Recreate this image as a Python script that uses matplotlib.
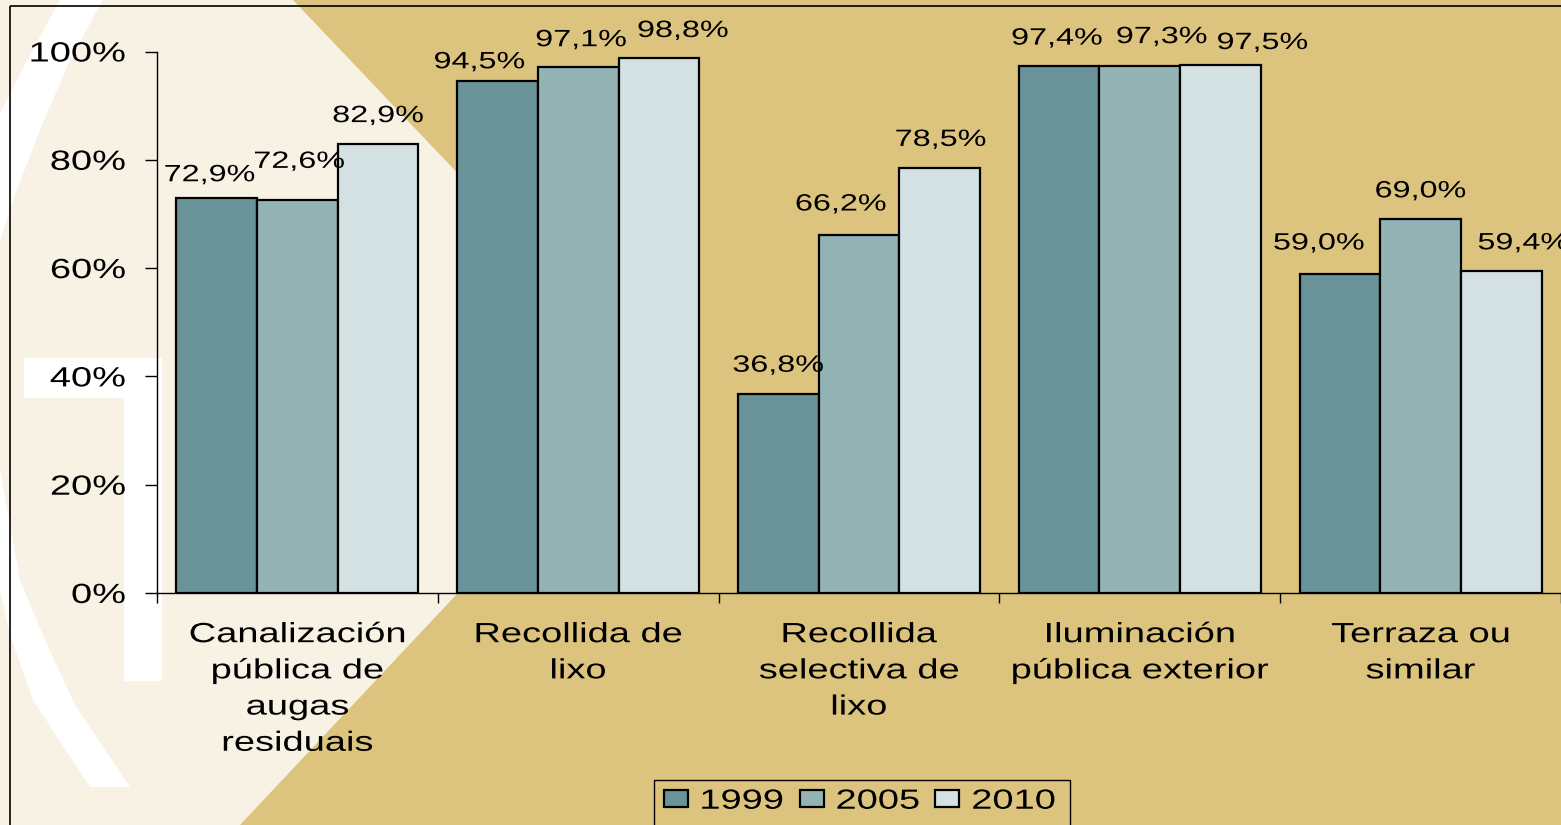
import numpy as np
import matplotlib
matplotlib.use("Agg")
from matplotlib import pyplot as plt
from matplotlib.patches import Polygon, Rectangle
from matplotlib.patheffects import AbstractPathEffect
from matplotlib.transforms import Affine2D

plt.rcParams["font.family"] = ["Liberation Sans", "DejaVu Sans"]

categories = ["Canalización\npública de\naugas\nresiduais", "Recollida de\nlixo",
              "Recollida\nselectiva de\nlixo", "Iluminación\npública exterior",
              "Terraza ou\nsimilar"]
years = ["1999", "2005", "2010"]
v1999 = [72.9, 94.5, 36.8, 97.4, 59.0]
v2005 = [72.6, 97.1, 66.2, 97.3, 69.0]
v2010 = [82.9, 98.8, 78.5, 97.5, 59.4]
y_ticks = [0, 20, 40, 60, 80, 100]
y_tick_labels = ["0%", "20%", "40%", "60%", "80%", "100%"]

colors = ["#6a9399", "#93b3b5", "#d4e1e2"]
cream = "#f8f2e5"
tan = "#dcc47f"

# label nudges in pixels (dx, dy) per series, as placed in the original
nudge = [[(-7, -5), (-18, -9), (0, 0), (-2, -1), (-21, 2)],
         [(2, 10), (3, -1), (-18, 2), (22, 1), (0, 0)],
         [(0, 0), (24, -1), (1, 0), (42, -6), (22, 0)]]


class StretchX(AbstractPathEffect):
    # the source image has its text drawn wider than normal Arial
    def __init__(self, sx=1.37, anchor=0.5):
        super().__init__()
        self.sx = sx
        self.anchor = anchor

    def draw_path(self, renderer, gc, tpath, affine, rgbFace=None):
        ext = tpath.get_extents()
        xr = ext.x0 + self.anchor * ext.width
        pre = Affine2D().translate(-xr, 0).scale(self.sx, 1).translate(xr, 0)
        renderer.draw_path(gc, tpath, pre + affine, rgbFace)


W, H = 1561, 825
fig = plt.figure(figsize=(W / 100, H / 100), dpi=100)
fig.patch.set_facecolor(tan)

# background decoration, drawn in pixel coordinates
bg = fig.add_axes([0, 0, 1, 1], zorder=0)
bg.set_xlim(0, W)
bg.set_ylim(H, 0)
bg.axis("off")
bg.add_patch(Polygon([(0, 0), (293, 0), (656, 382), (240, 825), (0, 825)],
                     closed=True, facecolor=cream, edgecolor="none"))
bg.add_patch(Polygon([(60, 0), (103, 0), (70, 60), (40, 130), (15, 195), (0, 240),
                      (0, 113), (30, 55)],
                     closed=True, facecolor="white", edgecolor="none"))
bg.add_patch(Polygon([(0, 470), (20, 580), (45, 640), (75, 705), (130, 787),
                      (90, 787), (33, 700), (10, 635), (0, 590)],
                     closed=True, facecolor="white", edgecolor="none"))
bg.add_patch(Polygon([(24, 358), (162, 358), (162, 681), (124, 681), (124, 398), (24, 398)],
                     closed=True, facecolor="white", edgecolor="none"))
bg.add_patch(Rectangle((10.5, 6), 2000, 2000, facecolor="none", edgecolor="black", linewidth=1.2))
# legend box (runs off the bottom of the picture)
bg.add_patch(Rectangle((654.5, 779.5), 416, 100, facecolor="none", edgecolor="black", linewidth=1))

x0, x_axis, y_top = 157, 593, 51.5
ax = fig.add_axes([x0 / W, 1 - x_axis / H, 1 - x0 / W, (x_axis - y_top) / H], zorder=1)
ax.patch.set_alpha(0)

x = np.arange(len(categories))
w = 0.2875
for i, (vals, c, yr) in enumerate(zip([v1999, v2005, v2010], colors, years)):
    bars = ax.bar(x + (i - 1) * w, vals, width=w, color=c, edgecolor="black",
                  linewidth=1.6, label=yr)
    for j, (b, v) in enumerate(zip(bars, vals)):
        dx, dy = nudge[i][j]
        ax.annotate(f"{v:.1f}%".replace(".", ","), (b.get_x() + b.get_width() / 2, v),
                    xytext=(dx, 22 + dy), textcoords="offset pixels", ha="center",
                    va="baseline", fontsize=17, annotation_clip=False,
                    path_effects=[StretchX()])

ax.set_ylim(0, 100)
ax.set_xlim(-0.5, -0.5 + (W - x0) / 281.8)
ax.set_yticks(y_ticks)
ax.set_yticklabels(y_tick_labels, fontsize=20)
ax.tick_params(axis="y", direction="out", length=8.5, width=1, pad=14)
ax.set_xticks(x)
ax.set_xticklabels(categories, fontsize=20, linespacing=1.51)
ax.tick_params(axis="x", which="major", length=0, pad=21)
ax.set_xticks(np.arange(len(categories) + 1) - 0.5, minor=True)
ax.tick_params(axis="x", which="minor", direction="out", length=7, width=1)
for s in ["top", "right"]:
    ax.spines[s].set_visible(False)
ax.spines["left"].set_linewidth(1)
ax.spines["bottom"].set_linewidth(1)
for t in ax.get_yticklabels():
    t.set_path_effects([StretchX(anchor=1.0)])
for t in ax.get_xticklabels():
    t.set_path_effects([StretchX()])

leg = fig.legend(loc="upper left", bbox_to_anchor=(654 / W, 1 - 779 / H), ncol=3,
                 fontsize=20, frameon=False, handlelength=0.86, handleheight=0.57,
                 handletextpad=0.45, columnspacing=1.35, borderpad=0.35,
                 borderaxespad=0)
for t in leg.get_texts():
    t.set_path_effects([StretchX(anchor=0.0)])

fig.savefig("out.png", dpi=100, facecolor=fig.get_facecolor())
